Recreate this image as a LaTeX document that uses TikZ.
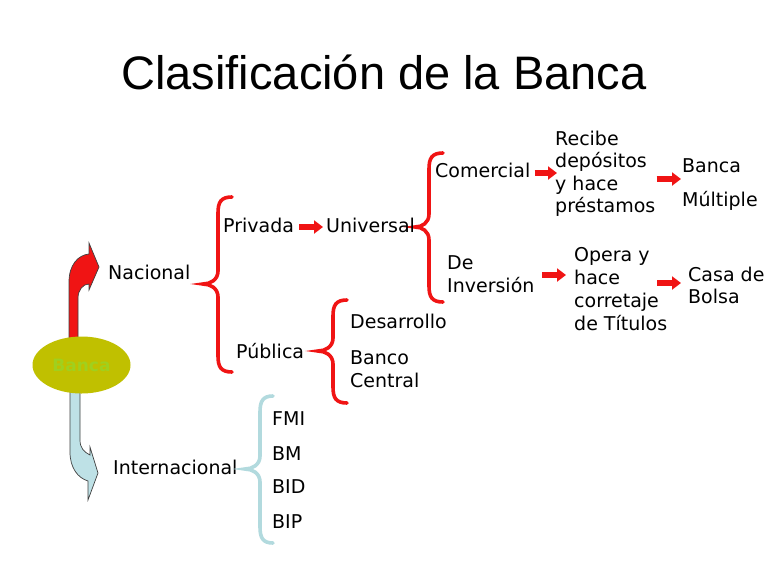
\documentclass[tikz,border=0pt]{standalone}
\usepackage{fontspec}
\setmainfont{DejaVu Sans}
\newfontfamily\titlefont{Liberation Sans}
\usetikzlibrary{arrows.meta,shapes.geometric}
\definecolor{bred}{RGB}{240,20,20}
\definecolor{bblue}{RGB}{178,218,222}
\definecolor{ovalfill}{RGB}{192,192,0}
\definecolor{ovaltext}{RGB}{160,208,30}
\definecolor{arrowblue}{RGB}{190,225,230}
\tikzset{
  lbl/.style={anchor=base west, inner sep=0pt, font=\fontsize{19}{23}\selectfont},
  blockarrow/.style={draw=bred, line width=6pt, -{Triangle[length=9pt,width=13pt]}},
  bracered/.style={draw=bred, line width=3.6pt, line cap=round},
  braceblue/.style={draw=bblue, line width=3.6pt, line cap=round},
  bigarrow/.style={draw=black!75, line width=0.7pt, line join=miter},
}
% #1 style, #2 tip x, #3 stem x, #4 end x, #5 top y, #6 mid y, #7 bottom y
\newcommand\cbrace[7]{%
  \draw[#1] (#4,#5) .. controls ({#3+3},#5) and (#3,{#5+5}) .. (#3,{#5+16})
    -- (#3,{#6-13}) .. controls (#3,{#6-4}) and ({#2+7},#6) .. (#2,#6)
    .. controls ({#2+7},#6) and (#3,{#6+4}) .. (#3,{#6+13})
    -- (#3,{#7-16}) .. controls (#3,{#7-5}) and ({#3+3},#7) .. (#4,#7);}
\begin{document}
\begin{tikzpicture}[x=1pt,y=-1pt]
\fill[white] (0,0) rectangle (768,576);
\useasboundingbox (0,0) rectangle (768,576);

% title
\node (title) [anchor=base, inner sep=0pt, font=\titlefont\fontsize{47}{50}\selectfont] at (384,89) {Clasificación de la Banca};

% curved arrows from the oval
\filldraw[bigarrow, fill=bred] (69,340) -- (69,282) .. controls (69,265) and (78,255) .. (89,254)
  -- (89,243) -- (99,267) -- (89,290) -- (89,284) .. controls (83,284) and (78,290) .. (78,298)
  -- (78,340) -- cycle;
\filldraw[bigarrow, fill=arrowblue] (70,390) -- (70,452) .. controls (70,468) and (78,478) .. (88,481)
  -- (88,500) -- (98,473) -- (90,447) -- (90,455) .. controls (84,452) and (80,448) .. (80,440)
  -- (80,390) -- cycle;

% oval
\node (banca) [ellipse, fill=ovalfill, minimum width=98pt, minimum height=57pt, inner sep=0pt,
  font=\bfseries\fontsize{17}{19}\selectfont, text=ovaltext] at (81.5,365) {Banca};

% level 1
\node (nacional) [lbl] at (108,279) {Nacional};
\node (internacional) [lbl] at (113,474) {Internacional};

% braces
\cbrace{bracered}{203}{218}{232}{197}{284}{372}
\cbrace{bracered}{415}{429}{443}{153}{227}{302}
\cbrace{bracered}{318}{333}{347}{300}{351}{403}
\cbrace{braceblue}{245}{260}{273}{396}{469}{543}

% nacional branch
\node (privada) [lbl] at (223,232) {Privada};
\node (universal) [lbl] at (326,232) {Universal};
\node (publica) [lbl] at (236,358) {Pública};
\node (desarrollo) [lbl] at (350,328) {Desarrollo};
\node (banco) [lbl] at (350,364) {Banco};
\node (central) [lbl] at (350,387.5) {Central};

\node (comercial) [lbl] at (435,177) {Comercial};
\node (recibe) [lbl] at (555,145) {Recibe};
\node (depositos) [lbl] at (555,167.5) {depósitos};
\node (yhace) [lbl] at (555,190) {y hace};
\node (prestamos) [lbl] at (555,212.5) {préstamos};
\node (bancam) [lbl] at (682,172) {Banca};
\node (multiple) [lbl] at (682,206) {Múltiple};

\node (de) [lbl] at (447,269) {De};
\node (inversion) [lbl] at (447,292) {Inversión};
\node (opera) [lbl] at (574,261) {Opera y};
\node (hace) [lbl] at (574,284) {hace};
\node (corretaje) [lbl] at (574,307) {corretaje};
\node (titulos) [lbl] at (574,330) {de Títulos};
\node (casa) [lbl] at (688,281) {Casa de};
\node (bolsa) [lbl] at (688,303) {Bolsa};

% internacional branch
\node (fmi) [lbl] at (272,425) {FMI};
\node (bm) [lbl] at (272,460) {BM};
\node (bid) [lbl] at (272,493) {BID};
\node (bip) [lbl] at (272,528) {BIP};

% block arrows
\draw[blockarrow] ([shift={(5,-5)}]privada.base east) -- ([shift={(-3,-5)}]universal.base west);
\draw[blockarrow] ([shift={(4,-4)}]comercial.base east) -- ([shift={(2,28)}]recibe.base west);
\draw[blockarrow] ([shift={(1,-33.5)}]prestamos.base east) -- ([shift={(-1,7)}]bancam.base west);
\draw[blockarrow] ([shift={(7.5,-17)}]inversion.base east) -- ([shift={(-8,-9)}]hace.base west);
\draw[blockarrow] ([shift={(37,-1)}]hace.base east) -- ([shift={(-7,2)}]casa.base west);
\end{tikzpicture}
\end{document}
